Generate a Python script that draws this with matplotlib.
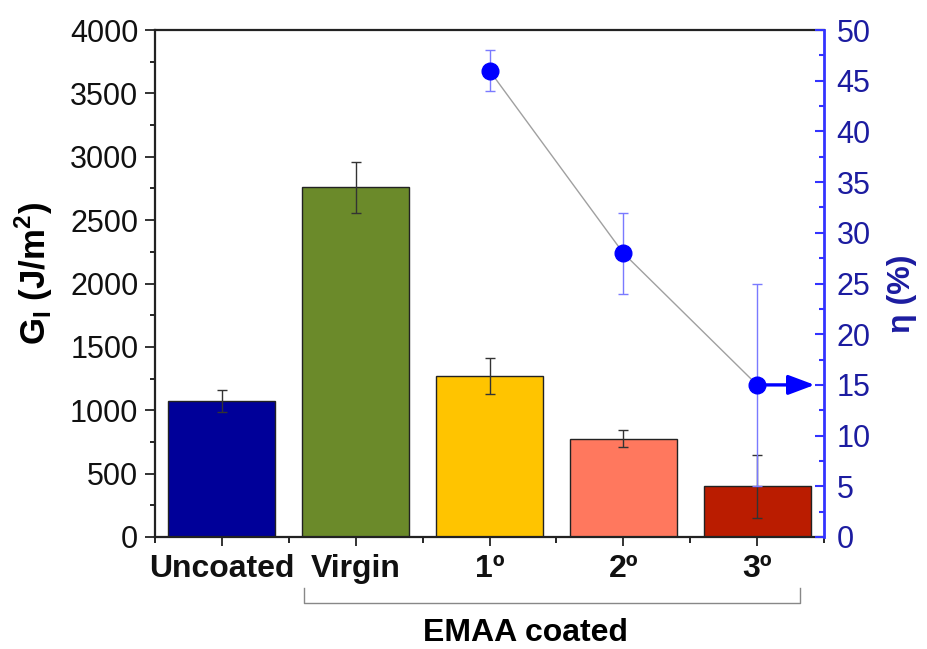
import matplotlib
matplotlib.use("Agg")
import matplotlib.pyplot as plt
from matplotlib.ticker import MultipleLocator, FixedLocator

plt.rcParams['font.family'] = ['Liberation Sans', 'DejaVu Sans']
plt.rcParams['mathtext.fontset'] = 'custom'
plt.rcParams['mathtext.rm'] = 'Liberation Sans'
plt.rcParams['mathtext.bf'] = 'Liberation Sans:bold'

# ---- data ----
categories = ['Uncoated', 'Virgin', '1º', '2º', '3º']
gic = [1075, 2760, 1270, 775, 400]
gic_err = [85, 200, 140, 67, 250]
bar_colors = ['#000099', '#6B8A2A', '#FFC400', '#FF785E', '#BA1C00']

eta_categories = ['1º', '2º', '3º']
eta = [46, 28, 15]
eta_err = [2, 4, 10]

group_label = 'EMAA coated'
group_members = ['Virgin', '3º']

W, H = 927, 649
fig = plt.figure(figsize=(W / 100, H / 100), dpi=100)
ax = fig.add_axes([155 / W, 1 - 537 / H, (824 - 155) / W, (537 - 30) / H])

x = list(range(len(categories)))
ax.bar(x, gic, width=0.8, color=bar_colors, edgecolor='#222222', linewidth=1.0, zorder=2)
ax.errorbar(x, gic, yerr=gic_err, fmt='none', ecolor='#333333', elinewidth=1.0,
            capsize=3.5, capthick=1.0, zorder=3)

ax.set_xlim(-0.5, 4.5)
ax.set_ylim(0, 4000)
ax.set_xticks(x)
ax.set_xticklabels(categories, fontsize=23, fontweight='bold')
ax.xaxis.set_minor_locator(FixedLocator([-0.5, 0.5, 1.5, 2.5, 3.5, 4.5]))
ax.yaxis.set_major_locator(MultipleLocator(500))
ax.yaxis.set_minor_locator(MultipleLocator(250))
ax.tick_params(axis='x', which='major', direction='out', length=6.5, width=1.2, pad=6, colors='#111111')
ax.tick_params(axis='x', which='minor', direction='out', length=4, width=1.2)
ax.tick_params(axis='y', which='major', direction='out', length=7, width=1.2, labelsize=22, pad=5, colors='#111111')
ax.tick_params(axis='y', which='minor', direction='out', length=3.6, width=1.2)
for s in ['left', 'bottom', 'top']:
    ax.spines[s].set_linewidth(1.6)
    ax.spines[s].set_color('#222222')
ax.spines['right'].set_visible(False)
ax.set_ylabel(r'G$_\mathbf{I}$ (J/m$^\mathbf{2}$)', fontsize=25, fontweight='bold')
ax.yaxis.set_label_coords(-0.15, 0.52)

# ---- secondary axis ----
ax2 = ax.twinx()
ax2.set_ylim(0, 50)
ex = [categories.index(c) for c in eta_categories]
ax2.plot(ex, eta, color='#a0a0a0', linewidth=1.0, zorder=2)
ax2.errorbar(ex, eta, yerr=eta_err, fmt='none', ecolor='#7a7aff', elinewidth=1.0,
             capsize=3.5, capthick=1.0, zorder=3)
ax2.plot(ex, eta, linestyle='none', marker='o', markersize=12, color='#0000ff', zorder=4)
ax2.annotate('', xy=(4.43, eta[-1]), xytext=(4.07, eta[-1]),
             arrowprops=dict(arrowstyle='-|>,head_length=0.8,head_width=0.3',
                             color='#0000ff', lw=2.4, shrinkA=0, shrinkB=0,
                             mutation_scale=20))
ax2.yaxis.set_major_locator(MultipleLocator(5))
ax2.yaxis.set_minor_locator(MultipleLocator(2.5))
ax2.tick_params(axis='y', which='major', direction='in', length=6.5, width=1.5,
                color='#3333ff', labelcolor='#1c1ca0', labelsize=22, pad=9)
ax2.tick_params(axis='y', which='minor', direction='in', length=3.3, width=1.5, color='#3333ff')
for s in ['left', 'bottom', 'top']:
    ax2.spines[s].set_visible(False)
ax2.spines['right'].set_color('#3333ff')
ax2.spines['right'].set_linewidth(2.0)
ax2.set_ylabel('η (%)', fontsize=23, fontweight='bold', color='#1c1ca0')
ax2.yaxis.set_label_coords(1.094, 0.48)

# ---- group bracket ----
x0 = categories.index(group_members[0]) - 0.387
x1 = categories.index(group_members[1]) + 0.32
trans = ax.get_xaxis_transform()
yb_top = -(588 - 537) / 507
yb_bot = -(603 - 537) / 507
ax.plot([x0, x0, x1, x1], [yb_top, yb_bot, yb_bot, yb_top], color='#888888',
        linewidth=1.0, transform=trans, clip_on=False)
ax.text(2.27, -(633 - 537) / 507, group_label, transform=trans, ha='center', va='center',
        fontsize=23, fontweight='bold')

fig.savefig('out.png', dpi=100)
